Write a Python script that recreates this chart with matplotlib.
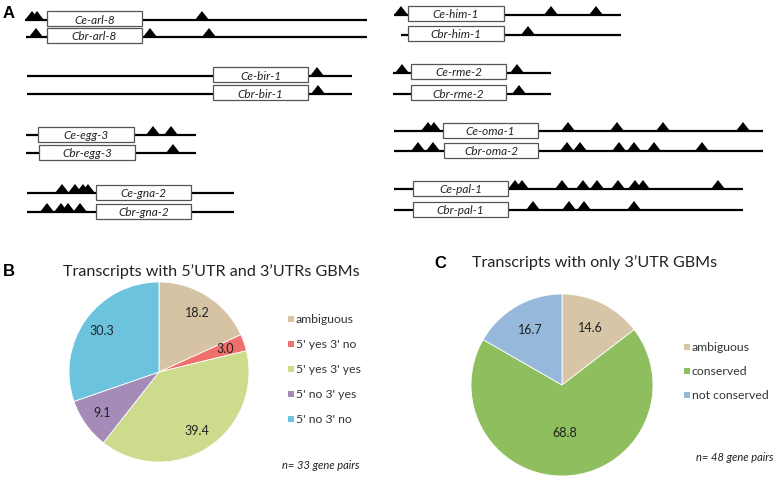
import matplotlib.pyplot as plt
from matplotlib.patches import Rectangle, Polygon
import numpy as np

plt.rcParams['font.family'] = ['Lato', 'DejaVu Sans']

W, H = 776, 486

# panel A: gene pairs (schematic x extents, figure pixel units)
genes = ["Ce-arl-8", "Cbr-arl-8", "Ce-bir-1", "Cbr-bir-1",
         "Ce-egg-3", "Cbr-egg-3", "Ce-gna-2", "Cbr-gna-2",
         "Ce-him-1", "Cbr-him-1", "Ce-rme-2", "Cbr-rme-2",
         "Ce-oma-1", "Cbr-oma-2", "Ce-pal-1", "Cbr-pal-1"]
transcript = [(25, 367), (26, 367), (27, 352), (27, 352),
              (26, 196), (26, 196), (27, 234), (27, 234),
              (394, 621), (401, 621), (393, 551), (393, 551),
              (394, 763), (394, 763), (394, 743), (394, 743)]
cds = [(47, 142), (47, 142), (213, 308), (213, 308),
       (38, 134), (39, 135), (96, 191), (96, 191),
       (408, 504), (408, 504), (411, 506), (411, 506),
       (443, 538), (444, 538), (413, 508), (413, 508)]
gbms = [[32, 37, 202], [36, 150, 209], [317], [318],
        [153, 171], [173], [62, 75, 83, 88], [47, 61, 68, 80],
        [401, 551, 596], [528], [402, 517], [519],
        [428, 434, 568, 617, 663, 743],
        [418, 433, 567, 580, 619, 634, 654, 702],
        [515, 522, 562, 583, 597, 618, 635, 643, 718],
        [533, 569, 584, 634]]
row_y = [20, 37, 76, 94, 135, 153, 193, 212,
         15, 35, 73, 94, 131, 151, 189, 210]

# panel B
b_labels = ["ambiguous", "5' yes 3' no", "5' yes 3' yes", "5' no 3' yes", "5' no 3' no"]
b_values = [18.2, 3.0, 39.4, 9.1, 30.3]
b_colors = ["#d5c3a4", "#ef6f6c", "#cddb8c", "#a48bb8", "#6cc3de"]

# panel C
c_labels = ["ambiguous", "conserved", "not conserved"]
c_values = [14.6, 68.8, 16.7]
c_colors = ["#d6c6a7", "#8fbe5e", "#96b8da"]

fig = plt.figure(figsize=(W / 100, H / 100), dpi=100)
ax = fig.add_axes([0, 0, 1, 1])
ax.set_xlim(0, W)
ax.set_ylim(H, 0)
ax.axis('off')

# gene schematics
tri_w, tri_h, box_h = 14, 9, 15
for name, (x0, x1), (c0, c1), sites, y in zip(genes, transcript, cds, gbms, row_y):
    ax.plot([x0, x1], [y, y], color='black', lw=1.6, solid_capstyle='butt', zorder=1)
    for s in sites:
        ax.add_patch(Polygon([(s - tri_w / 2, y), (s, y - tri_h), (s + tri_w / 2, y)],
                             closed=True, color='black', lw=0, zorder=2))
    ax.add_patch(Rectangle((c0, y - 1 - box_h / 2), c1 - c0, box_h,
                           facecolor='white', edgecolor='#555555', lw=0.9, zorder=3))
    ax.text((c0 + c1) / 2, y, name, style='italic', fontsize=8.5,
            ha='center', va='center', color='#222222', zorder=4)

panel_font = dict(family='Liberation Sans', weight='bold', fontsize=12, color='black')
ax.text(3, 14, "A", ha='left', va='center', **panel_font)
ax.text(3, 271, "B", ha='left', va='center', **panel_font)
ax.text(434, 263, "C", ha='left', va='center', **panel_font)

ax.text(63, 272, "Transcripts with 5\u2019UTR and 3\u2019UTRs GBMs", fontsize=11.6,
        ha='left', va='center', color='#222222')
ax.text(472, 263, "Transcripts with only 3\u2019UTR GBMs", fontsize=11.6,
        ha='left', va='center', color='#222222')


def draw_pie(cx, cy, r, values, colors, dists):
    pad = 1.03
    pax = fig.add_axes([(cx - r * pad) / W, (H - cy - r * pad) / H,
                        2 * r * pad / W, 2 * r * pad / H])
    wedges, _ = pax.pie(values, colors=colors, startangle=90, counterclock=False,
                        wedgeprops=dict(edgecolor='white', linewidth=0.6))
    for w, v, d in zip(wedges, values, dists):
        ang = np.deg2rad((w.theta1 + w.theta2) / 2)
        pax.text(d * np.cos(ang), d * np.sin(ang), f"{v:.1f}", fontsize=9,
                 ha='center', va='center', color='#222222')
    pax.set_xlim(-pad, pad)
    pax.set_ylim(-pad, pad)
    pax.axis('off')


def draw_legend(x, y0, step, labels, colors):
    for i, (lab, col) in enumerate(zip(labels, colors)):
        y = y0 + i * step
        ax.add_patch(Rectangle((x, y - 3), 6, 6, facecolor=col, edgecolor='none'))
        ax.text(x + 8, y, lab, fontsize=8.8, ha='left', va='center', color='#333333')


draw_pie(159, 372, 90, b_values, b_colors, [0.78] * 5)
draw_legend(288, 319, 25, b_labels, b_colors)
ax.text(360, 465, "n= 33 gene pairs", style='italic', fontsize=8,
        ha='right', va='center', color='#222222')

draw_pie(562, 385, 91, c_values, c_colors, [0.7, 0.53, 0.7])
draw_legend(684, 347, 24, c_labels, c_colors)
ax.text(773, 457, "n= 48 gene pairs", style='italic', fontsize=8,
        ha='right', va='center', color='#222222')

fig.savefig("out.png", dpi=100)
